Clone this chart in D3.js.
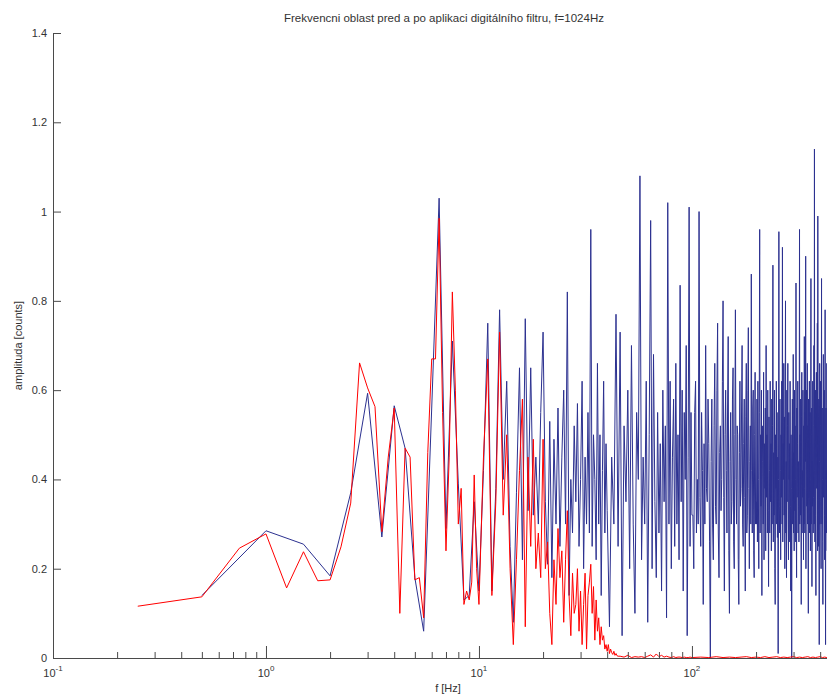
<!DOCTYPE html>
<html>
<head>
<meta charset="utf-8">
<script src="https://cdn.jsdelivr.net/npm/d3@7"></script>
<style>
  body { margin: 0; background: #fff; }
  text { font-family: "Liberation Sans", Arial, sans-serif; fill: #333; }
</style>
</head>
<body>
<div id="chart"></div>
<script>
const width = 827
const height = 698
const margin = { left: 53, top: 33, bottom: 40 }

const titleText = "Frekvencni oblast pred a po aplikaci digitálního filtru, f=1024Hz"
const xLabel = "f [Hz]"
const yLabel = "amplituda [counts]"

const yTicks = [0, 0.2, 0.4, 0.6, 0.8, 1, 1.2, 1.4]
const xMajorExp = [-1, 0, 1, 2]
const xMinor = [0.2, 0.3, 0.4, 0.5, 0.6, 0.7, 0.8, 0.9, 2, 3, 4, 5, 6, 7, 8, 9,
    20, 30, 40, 50, 60, 70, 80, 90, 200, 300, 400, 500]

// blue = signal before filtering, red = after filtering
// 0.5 Hz grid from 0.5 Hz
const blueA = [
    0.14, 0.285, 0.255, 0.184, 0.37, 0.593, 0.271, 0.565, 0.47, 0.18,
    0.06, 0.56, 1.03, 0.29, 0.71, 0.39, 0.13, 0.14, 0.35, 0.15,
    0.42, 0.75, 0.15, 0.38, 0.78, 0.40, 0.62, 0.25, 0.08, 0.37,
    0.65, 0.22, 0.76, 0.33, 0.65, 0.32, 0.45, 0.30, 0.55, 0.73,
    0.35, 0.21, 0.53, 0.18, 0.49, 0.30, 0.56, 0.25, 0.45, 0.60,
    0.30, 0.82, 0.14, 0.40, 0.28, 0.52, 0.35, 0.57, 0.25, 0.40,
    0.62, 0.20, 0.45, 0.30, 0.55, 0.28, 0.96, 0.25, 0.50, 0.40,
    0.22, 0.66, 0.30, 0.50, 0.14, 0.42, 0.62, 0.28, 0.48, 0.33
]
// 1 Hz grid from 41 Hz
const blueB = [
    0.07, 0.45, 0.30, 0.77, 0.25, 0.73, 0.05, 0.52, 0.35, 0.60,
    0.20, 0.70, 0.30, 0.10, 0.55, 0.40, 1.08, 0.22, 0.45, 0.30,
    0.62, 0.08, 0.50, 0.98, 0.20, 0.68, 0.35, 0.18, 0.55, 0.28,
    0.48, 0.15, 0.60, 0.35, 0.52, 0.09, 1.02, 0.30, 0.62, 0.20,
    0.45, 0.58, 0.25, 0.66, 0.30, 0.50, 0.22, 0.835, 0.35, 0.60,
    0.15, 0.55, 0.40, 0.70, 0.05, 0.45, 1.01, 0.25, 0.55, 0.32
]
// 1 Hz grid from 101 Hz
const blueC = [
    0.32, 0.20, 0.55, 0.62, 0.28, 0.40, 0.30, 1.00, 0.36, 0.25,
    0.55, 0.42, 0.12, 0.48, 0.30, 0.70, 0.38, 0.35, 0.58, 0.48,
    0.26, 0.00, 0.44, 0.58, 0.30, 0.22, 0.52, 0.66, 0.34, 0.30,
    0.60, 0.75, 0.28, 0.18, 0.46, 0.52, 0.33, 0.40, 0.62, 0.80,
    0.36, 0.15, 0.50, 0.60, 0.42, 0.28, 0.56, 0.72, 0.24, 0.10,
    0.44, 0.55, 0.30, 0.35, 0.58, 0.65, 0.26, 0.20, 0.50, 0.78,
    0.40, 0.30, 0.52, 0.50, 0.22, 0.12, 0.46, 0.62, 0.34, 0.38,
    0.56, 0.70, 0.30, 0.25, 0.48, 0.58, 0.36, 0.15, 0.54, 0.66,
    0.28, 0.32, 0.60, 0.74, 0.38, 0.20, 0.44, 0.52, 0.30, 0.86,
    0.42, 0.28, 0.56, 0.60, 0.24, 0.18, 0.50, 0.64, 0.30, 0.35
]
// 1 Hz grid from 201 Hz
const blueD = [
    0.30, 0.58, 0.26, 0.62, 0.40, 0.20, 0.55, 0.96, 0.28, 0.50,
    0.34, 0.60, 0.14, 0.52, 0.44, 0.30, 0.64, 0.22, 0.48, 0.38,
    0.56, 0.24, 0.70, 0.36, 0.50, 0.28, 0.60, 0.33, 0.16, 0.54,
    0.42, 0.28, 0.62, 0.35, 0.48, 0.24, 0.58, 0.30, 0.52, 0.88,
    0.26, 0.46, 0.32, 0.60, 0.20, 0.12, 0.50, 0.38, 0.62, 0.30,
    0.55, 0.27, 0.45, 0.01, 0.40, 0.955, 0.34, 0.28, 0.58, 0.42,
    0.22, 0.50, 0.36, 0.62, 0.30, 0.92, 0.26, 0.48, 0.40, 0.66,
    0.32, 0.54, 0.20, 0.58, 0.80, 0.28, 0.44, 0.18, 0.60, 0.35,
    0.52, 0.66, 0.30, 0.22, 0.55, 0.40, 0.48, 0.26, 0.62, 0.34,
    0.15, 0.50, 0.38, 0.00, 0.44, 0.58, 0.30, 0.36, 0.68, 0.28,
    0.46, 0.24, 0.60, 0.33, 0.52, 0.40, 0.26, 0.84, 0.30, 0.18,
    0.56, 0.36, 0.48, 0.62, 0.28, 0.44, 0.34, 0.26, 0.58, 0.96,
    0.30, 0.50, 0.32, 0.58, 0.40, 0.12, 0.54, 0.64, 0.28, 0.42,
    0.36, 0.60, 0.46, 0.22, 0.52, 0.30, 0.72, 0.38, 0.28, 0.55,
    0.44, 0.90, 0.20, 0.48, 0.60, 0.34, 0.40, 0.66, 0.30, 0.52,
    0.26, 0.10, 0.58, 0.36, 0.42, 0.62, 0.28, 0.46, 0.55, 0.24,
    0.40, 0.85, 0.30, 0.50, 0.56, 0.16, 0.44, 0.34, 0.62, 0.38,
    0.28, 0.36, 0.52, 0.70, 0.30, 1.14, 0.42, 0.26, 0.48, 0.60,
    0.32, 0.14, 0.56, 0.64, 0.38, 0.40, 0.50, 0.75, 0.24, 0.99,
    0.46, 0.25, 0.54, 0.58, 0.36, 0.03, 0.44, 0.66, 0.30, 0.35,
    0.52, 0.62, 0.28, 0.20, 0.48, 0.85, 0.34, 0.30, 0.56, 0.40,
    0.26, 0.12, 0.50, 0.68, 0.36, 0.38, 0.44, 0.60, 0.32, 0.22,
    0.48, 0.78, 0.30, 0.03, 0.52, 0.56, 0.40, 0.42, 0.28, 0.66,
    0.34, 0.24, 0.58, 0.60, 0.30, 0.34, 0.46, 0.72, 0.38, 0.16,
    0.50, 0.58, 0.36, 0.40, 0.28, 0.64, 0.44, 0.26, 0.52, 0.55
]
// 0.25 Hz grid from 0.25 Hz
const redA = [
    0.116, 0.137, 0.246, 0.278, 0.157, 0.238, 0.173, 0.175, 0.249, 0.347,
    0.661, 0.605, 0.563, 0.283, 0.45, 0.56, 0.10, 0.47, 0.45, 0.175,
    0.18, 0.09, 0.46, 0.67, 0.67, 0.985, 0.55, 0.24, 0.45, 0.82,
    0.60, 0.30, 0.38, 0.12, 0.15, 0.13, 0.17, 0.41, 0.20, 0.12
]
// 0.5 Hz grid from 10.5 Hz
const redB = [
    0.45, 0.67, 0.14, 0.35, 0.73, 0.32, 0.50, 0.20, 0.03, 0.22,
    0.42, 0.58, 0.07, 0.45, 0.25, 0.49, 0.20, 0.28, 0.18, 0.49,
    0.20, 0.26, 0.10, 0.03, 0.22, 0.12, 0.29, 0.18, 0.24, 0.08,
    0.22, 0.33, 0.14, 0.05, 0.19, 0.10, 0.12, 0.20, 0.06, 0.15,
    0.03, 0.12, 0.19, 0.02, 0.14, 0.17, 0.21, 0.10, 0.16, 0.04,
    0.13, 0.06, 0.09, 0.03, 0.07, 0.04, 0.05, 0.02, 0.03, 0.015,
    0.03, 0.01, 0.02, 0.012, 0.008, 0.015, 0.006, 0.01, 0.005, 0.004
]
// 2 Hz grid from 46 Hz
const redC = [
    0.004, 0.002, 0.006, 0.001, 0.003, 0.002, 0.003, 0.001, 0.004, 0.007,
    0.002, 0.009, 0.003, 0.006, 0.002, 0.004, 0.002, 0.001, 0.003, 0.001,
    0.002, 0.002, 0.001, 0.002, 0.001, 0.001, 0.002, 0.001
]
// 10 Hz grid from 110 Hz
const redD = [
    0.002, 0.001, 0.003, 0.001, 0.002, 0.001, 0.002, 0.003, 0.001, 0.002,
    0.001, 0.003, 0.001, 0.002, 0.003, 0.001, 0.002, 0.001, 0.002, 0.003,
    0.001, 0.002, 0.001, 0.002, 0.003, 0.001, 0.002, 0.001, 0.002, 0.003,
    0.001, 0.002, 0.001, 0.002, 0.003, 0.001, 0.002, 0.001, 0.002, 0.001, 0.002
]

const grid = (start, step, vals) => vals.map((v, i) => ({ f: start + i * step, a: v }))

const blueData = [].concat(grid(0.5, 0.5, blueA), grid(41, 1, blueB), grid(101, 1, blueC), grid(201, 1, blueD))
const redData = [].concat(grid(0.25, 0.25, redA), grid(10.5, 0.5, redB), grid(46, 2, redC), grid(110, 10, redD))

const svg = d3.select("#chart").append("svg").attr("width", width).attr("height", height)

const x = d3.scaleLog().domain([0.1, 512]).range([margin.left, 843])
const y = d3.scaleLinear().domain([0, 1.4]).range([height - margin.bottom, margin.top])

const line = d3.line().x(d => x(d.f)).y(d => y(d.a))

svg.append("path").datum(blueData)
    .attr("d", line)
    .attr("fill", "none")
    .attr("stroke", "#2c3190")
    .attr("stroke-width", 1)

svg.append("path").datum(redData)
    .attr("d", line)
    .attr("fill", "none")
    .attr("stroke", "#ff0000")
    .attr("stroke-width", 1)

// axes, MATLAB style ticks pointing inward
const y0 = height - margin.bottom
const xMinorAxis = svg.append("g").attr("transform", `translate(0, ${y0})`)
    .call(d3.axisBottom(x).tickValues(xMinor).tickSize(-6).tickFormat(""))
const xMajorAxis = svg.append("g").attr("transform", `translate(0, ${y0})`)
    .call(d3.axisBottom(x).tickValues(xMajorExp.map(e => Math.pow(10, e))).tickSize(-12).tickSizeOuter(0).tickFormat(""))
xMinorAxis.select(".domain").remove()

const yAxis = svg.append("g").attr("transform", `translate(${margin.left}, 0)`)
    .call(d3.axisLeft(y).tickValues(yTicks).tickSize(-8).tickSizeOuter(0).tickPadding(6).tickFormat(d3.format("~g")))

svg.selectAll(".domain, .tick line").attr("stroke", "#4a4a4a")
yAxis.selectAll("text").attr("font-size", 11).attr("fill", "#333")

const xLab = svg.append("g").selectAll("text")
    .data(xMajorExp)
    .join("text")
        .attr("x", d => x(Math.pow(10, d)))
        .attr("y", y0 + 19)
        .attr("text-anchor", "middle")
        .attr("font-size", 11)
xLab.append("tspan").text("10")
xLab.append("tspan").text(d => d).attr("font-size", 8).attr("dy", -6)

svg.append("text")
    .text(xLabel)
    .attr("x", (margin.left + 843) / 2)
    .attr("y", 692)
    .attr("text-anchor", "middle")
    .attr("font-size", 11)

svg.append("text")
    .text(yLabel)
    .attr("transform", `translate(22, ${(y0 + margin.top) / 2}) rotate(-90)`)
    .attr("text-anchor", "middle")
    .attr("font-size", 11)

svg.append("text")
    .text(titleText)
    .attr("x", 444)
    .attr("y", 22)
    .attr("text-anchor", "middle")
    .attr("font-size", 11.5)
</script>
</body>
</html>
